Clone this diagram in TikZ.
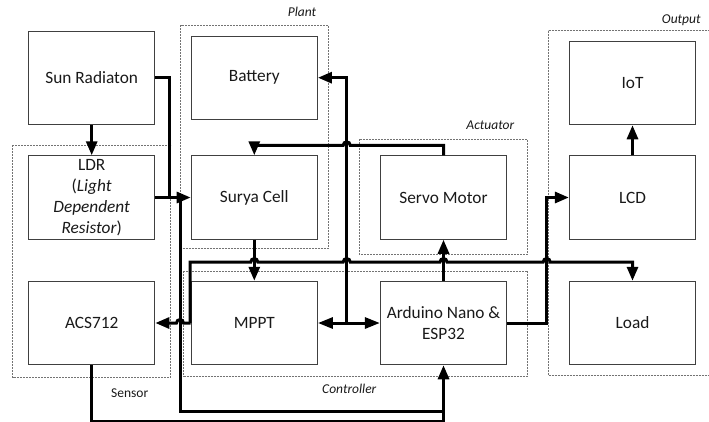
\documentclass[tikz,border=0pt]{standalone}
\usepackage{fontspec}
\setmainfont{Carlito}
\usetikzlibrary{arrows.meta,calc}
\begin{document}
\begin{tikzpicture}[x=1pt,y=-1pt,
  box/.style={draw=black!75, line width=0.9pt, minimum width=126.4pt, minimum height=83.6pt, inner sep=0pt, font=\fontsize{17.3}{20.8}\selectfont, align=center, text=black!90},
  grp/.style={draw=black!55, line width=0.8pt, dash pattern=on 2pt off 1pt},
  glabel/.style={font=\fontsize{13.5}{16}\selectfont\itshape, text=black!90},
  slabel/.style={font=\fontsize{13.5}{16}\selectfont, text=black!90},
  wire/.style={line width=3pt, draw=black},
  arr/.style={wire, -{Triangle[length=14pt,width=11pt]}},
  darr/.style={wire, {Triangle[length=15pt,width=11pt]}-{Triangle[length=15pt,width=11pt]}},
]
\useasboundingbox (0,0) rectangle (709,421);

% groups
\draw[grp] (12.7,145.3) rectangle (170.7,377.7);
\draw[grp] (180.7,25.3) rectangle (328.3,248.3);
\draw[grp] (183.7,271) rectangle (527.7,376.2);
\draw[grp] (359.3,139.3) rectangle (527.7,254.3);
\draw[grp] (548.3,30.7) rectangle (715,375.5);
\node[glabel] (lplant) at (302,11.5) {Plant};
\node[glabel] (lact) at (490.3,125) {Actuator};
\node[glabel] (lctrl) at (349.3,389) {Controller};
\node[glabel] (lout) at (681.3,20) {Output};
\node[slabel] (lsens) at (129.7,393) {Sensor};

% boxes
\node[box, minimum height=93.7pt] (sun) at (91.7,77.85) {Sun Radiaton};
\node[box] (ldr) at (91.7,197.5) {LDR\\(\textit{Light}\\\textit{Dependent}\\\textit{Resistor})};
\node[box] (acs) at (91.7,323) {ACS712};
\node[box, minimum height=83.3pt] (batt) at (254.3,77.7) {Battery};
\node[box] (surya) at (254.3,197.5) {Surya Cell};
\node[box] (mppt) at (254.3,323) {MPPT};
\node[box] (servo) at (443.5,197.5) {Servo Motor};
\node[box] (ard) at (443.5,323) {Arduino Nano \&\\ESP32};
\node[box] (iot) at (632.5,83) {IoT};
\node[box] (lcd) at (632.5,197.5) {LCD};
\node[box] (load) at (632.5,323) {Load};

% junction coordinates
\coordinate (jsun) at (169.3,197.5);
\coordinate (jv) at (180,197.5);
\coordinate (jbat) at (346.7,323);
\coordinate (jbus) at (190,323);
\coordinate (jlcd) at (546.7,323);
\coordinate (jbot) at (443.5,411.5);

% connectors
\draw[arr] (sun) -- (ldr);
\draw[wire] (sun.east) -| (jsun);
\draw[arr] (ldr.east) -- (surya.west);
\draw[wire] (jv) |- (jbot);
\draw[arr] (jbot) -- (ard.south);
\draw[wire] (acs.south) -- (91.7,421.6) -| (jbot);

\draw[arr] (servo.north) -- (443.5,145.3) -- (350.2,145.3)
  .. controls (350.2,140.8) and (343.2,140.8) .. (343.2,145.3)
  -- (254.3,145.3) -- (surya.north);

\draw[darr] (mppt.east) -- (ard.west);
\draw[arr] (jbat) |- (batt.east);

\draw[arr] (mppt.west) -- (183.5,323)
  .. controls (183.5,318.5) and (176.5,318.5) .. (176.5,323) -- (acs.east);

\draw[arr] (jbus) -- (190,262) -- (250.8,262)
  .. controls (250.8,257.5) and (257.8,257.5) .. (257.8,262) -- (343.2,262)
  .. controls (343.2,257.5) and (350.2,257.5) .. (350.2,262) -- (440,262)
  .. controls (440,257.5) and (447,257.5) .. (447,262) -- (543.2,262)
  .. controls (543.2,257.5) and (550.2,257.5) .. (550.2,262) -- (632.5,262)
  -- (load.north);

\draw[arr] (surya) -- (mppt);
\draw[arr] (ard) -- (servo);
\draw[arr] (ard.east) -- (jlcd) |- (lcd.west);
\draw[arr] (lcd) -- (iot);
\end{tikzpicture}
\end{document}
